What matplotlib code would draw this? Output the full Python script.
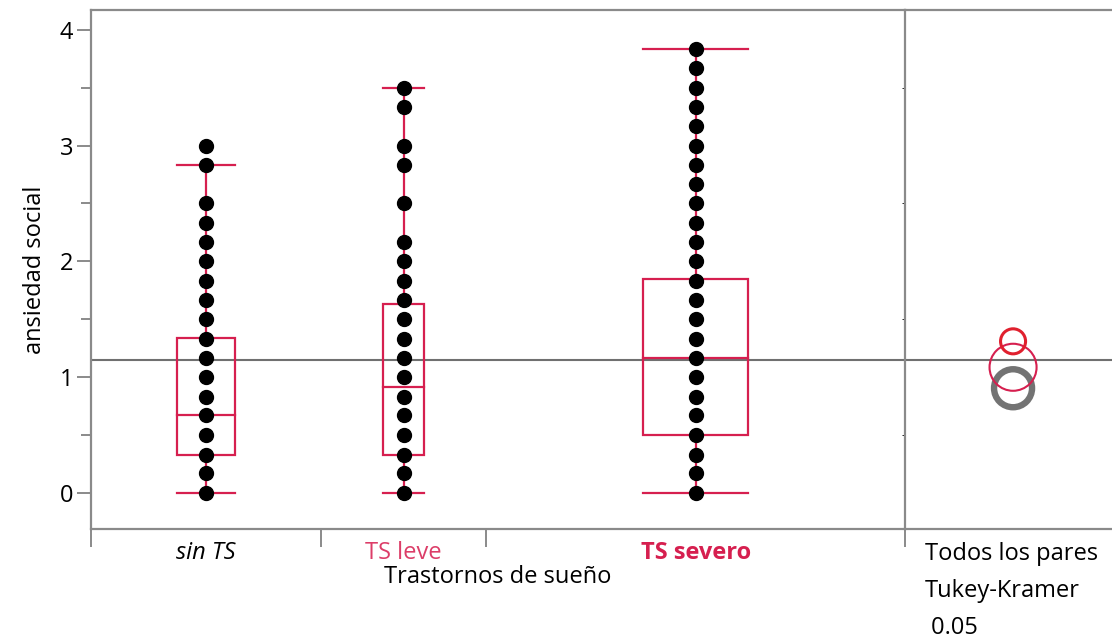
import matplotlib.pyplot as plt
from matplotlib.patches import Rectangle, Circle

plt.rcParams['font.family'] = ['Open Sans', 'DejaVu Sans']

# groups and their sizes (JMP makes each group's width proportional to n)
groups = ['sin TS', 'TS leve', 'TS severo']
group_n = [39, 28, 71]

sin_ts = [0.0, 0.17, 0.33, 0.5, 0.67, 0.83, 1.0, 1.17, 1.33, 1.5, 1.67, 1.83,
          2.0, 2.17, 2.33, 2.5, 2.83, 3.0]
ts_leve = [0.0, 0.17, 0.33, 0.5, 0.67, 0.83, 1.0, 1.17, 1.33, 1.5, 1.67, 1.83,
           2.0, 2.17, 2.5, 2.83, 3.0, 3.33, 3.5]
ts_severo = [0.0, 0.17, 0.33, 0.5, 0.67, 0.83, 1.0, 1.17, 1.33, 1.5, 1.67, 1.83,
             2.0, 2.17, 2.33, 2.5, 2.67, 2.83, 3.0, 3.17, 3.33, 3.5, 3.67, 3.83]
points = [sin_ts, ts_leve, ts_severo]

# box plot summary
q1 = [0.33, 0.33, 0.5]
medians = [0.67, 0.92, 1.17]
q3 = [1.34, 1.63, 1.85]
whisker_lo = [0.0, 0.0, 0.0]
whisker_hi = [2.83, 3.5, 3.83]

grand_mean = 1.15

# comparison circles (Tukey-Kramer 0.05)
group_means = [0.905, 1.086, 1.31]
circle_radii = [0.164, 0.203, 0.108]

red = '#d61f4f'
red_light = '#dc3d68'
circ_red = '#e0202e'
gray = '#8a8a8a'
FS = 17

fig = plt.figure(figsize=(11.12, 6.4), dpi=100)
ax = fig.add_axes([91/1112, 111/640, 814/1112, 519/640])
ax2 = fig.add_axes([905/1112, 111/640, 207/1112, 519/640], sharey=ax)

ylo, yhi = -0.31, 4.17
ax.set_ylim(ylo, yhi)

total = sum(group_n)
ax.set_xlim(0, total)
edges = [0]
for n in group_n:
    edges.append(edges[-1] + n)
centers = [(edges[i] + edges[i + 1]) / 2 for i in range(len(groups))]

for i in range(len(groups)):
    c = centers[i]
    w = 0.25 * group_n[i]
    # whiskers
    ax.plot([c, c], [whisker_lo[i], q1[i]], color=red, lw=1.6, zorder=2)
    ax.plot([c, c], [q3[i], whisker_hi[i]], color=red, lw=1.6, zorder=2)
    ax.plot([c - w/2, c + w/2], [whisker_lo[i]] * 2, color=red, lw=1.6, zorder=2)
    ax.plot([c - w/2, c + w/2], [whisker_hi[i]] * 2, color=red, lw=1.6, zorder=2)
    # box + median
    ax.add_patch(Rectangle((c - w/2, q1[i]), w, q3[i] - q1[i], fill=False,
                           edgecolor=red, lw=1.6, zorder=2))
    ax.plot([c - w/2, c + w/2], [medians[i]] * 2, color=red, lw=1.6, zorder=2)
    # points
    ax.plot([c] * len(points[i]), points[i], 'o', color='black',
            markersize=10, zorder=4)

for a in (ax, ax2):
    a.axhline(grand_mean, color='#707070', lw=1.5, zorder=1)
    for s in a.spines.values():
        s.set_color(gray)
        s.set_linewidth(1.6)

# y axis
ax.set_yticks([0, 1, 2, 3, 4])
ax.set_yticks([0.5, 1.5, 2.5, 3.5], minor=True)
ax.tick_params(axis='y', which='major', length=10, width=1.4, color=gray,
               labelsize=FS, pad=3)
ax.tick_params(axis='y', which='minor', length=7, width=1.4, color=gray)
ax.set_ylabel('ansiedad social', fontsize=FS, labelpad=9)

# x axis: boundary ticks and group labels
ax.set_xticks(edges)
ax.set_xticklabels([''] * len(edges))
ax.tick_params(axis='x', which='major', length=13, width=1.4, color=gray)
ax.spines['right'].set_visible(False)

xt = ax.get_xaxis_transform()
lab_y = -30 / 519
ax.text(centers[0], lab_y, groups[0], transform=xt, fontsize=FS,
        style='italic', ha='center', va='baseline')
ax.text(centers[1], lab_y, groups[1], transform=xt, fontsize=FS,
        color=red_light, ha='center', va='baseline')
ax.text(centers[2], lab_y, groups[2], transform=xt, fontsize=FS,
        color=red, fontweight='bold', ha='center', va='baseline')
ax.text(total / 2, -54 / 519, 'Trastornos de sueño', transform=xt,
        fontsize=FS, ha='center', va='baseline')

# right panel with comparison circles
ax2.spines['right'].set_visible(False)
ax2.tick_params(left=False, labelleft=False, bottom=False, labelbottom=False)
pos = ax2.get_position()
w_px = pos.width * fig.get_figwidth() * fig.dpi
h_px = pos.height * fig.get_figheight() * fig.dpi
xspan = w_px / h_px * (yhi - ylo)
ax2.set_xlim(0, xspan)
cx = 0.522 * xspan
circ_style = [('#737373', 4.6), (red, 1.5), (circ_red, 2.2)]
for i in range(len(groups)):
    col, lw = circ_style[i]
    ax2.add_patch(Circle((cx, group_means[i]), circle_radii[i], fill=False,
                         edgecolor=col, lw=lw, zorder=3 if i == 0 else 4))

fig.text(925/1112, 1 - 560/640, 'Todos los pares', fontsize=FS, va='baseline')
fig.text(925/1112, 1 - 597/640, 'Tukey-Kramer', fontsize=FS, va='baseline')
fig.text(925/1112, 1 - 634/640, ' 0.05', fontsize=FS, va='baseline')

fig.savefig('out.png', dpi=100)
